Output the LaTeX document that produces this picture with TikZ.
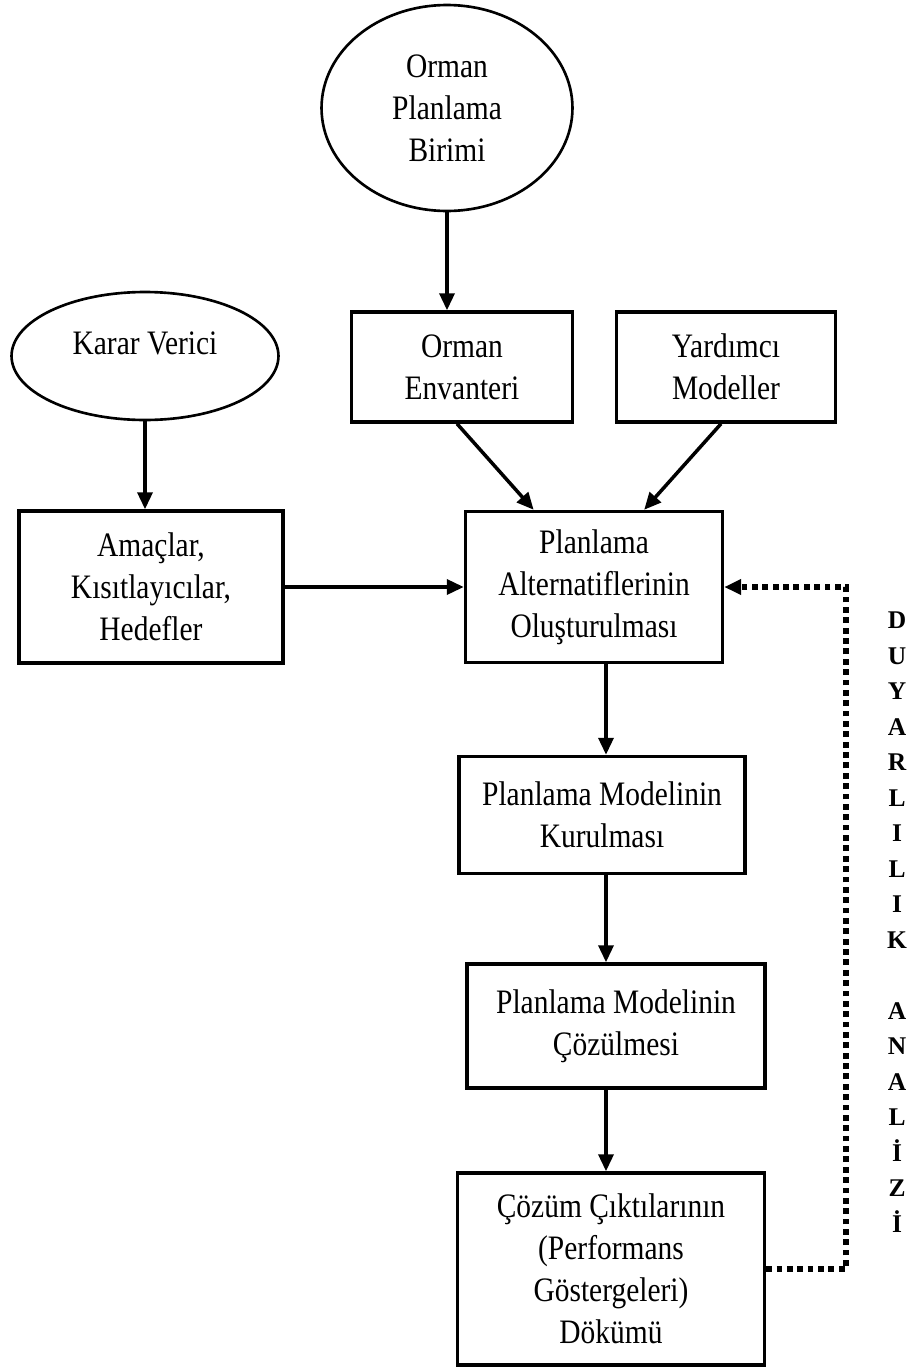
\documentclass[tikz,border=0pt]{standalone}
\usepackage{fontspec}
\setmainfont{Liberation Serif}[FakeStretch=0.86]
\newfontfamily\sidefont{Liberation Serif}
\usetikzlibrary{arrows.meta,shapes.geometric}

\begin{document}
\begin{tikzpicture}
    [x=0.02cm,y=-0.02cm,font=\fontsize{19.5}{23.9}\selectfont,
     box/.style={shape=rectangle,draw=black,line width=2pt,align=center,inner sep=0pt},
     oval/.style={shape=ellipse,draw=black,line width=1.5pt,align=center,inner sep=0pt},
     arr/.style={-{Triangle[length=0.34cm,width=0.3cm]},line width=2pt},
     fbarr/.style={-{Triangle[length=0.34cm,width=0.3cm]},line width=3.3pt,dash pattern=on 3.3pt off 2.6pt}]
    \useasboundingbox (0,0) rectangle (910,1369);
    \node [oval,minimum width=5.02cm,minimum height=4.12cm] (obirim) at (447,108) {Orman\\Planlama\\Birimi};
    \node [oval,minimum width=5.34cm,minimum height=2.56cm,label={[yshift=0.26cm]center:Karar Verici}] (karar) at (145,356) {};
    \node [box,minimum width=4.42cm,minimum height=2.2cm] (oenv) at (462,367) {Orman\\Envanteri};
    \node [box,minimum width=4.38cm,minimum height=2.2cm] (yard) at (726,367) {Yardımcı\\Modeller};
    \node [box,minimum width=5.28cm,minimum height=3.04cm] (amac) at (151,587) {Amaçlar,\\Kısıtlayıcılar,\\Hedefler};
    \node [box,minimum width=5.14cm,minimum height=3.02cm] (palt) at (594,587) {Planlama\\Alternatiflerinin\\Oluşturulması};
    \node [box,minimum width=5.72cm,minimum height=2.34cm] (kur) at (602,815) {Planlama Modelinin\\Kurulması};
    \node [box,minimum width=5.96cm,minimum height=2.48cm] (coz) at (616,1026) {Planlama Modelinin\\Çözülmesi};
    \node [box,minimum width=6.14cm,minimum height=3.84cm] (dokum) at (611,1269) {Çözüm Çıktılarının\\(Performans\\Göstergeleri)\\Dökümü};
    \node [align=center,font=\sidefont\bfseries\fontsize{14.5}{20.2}\selectfont] (duyar) at (897,922)
      {D\\U\\Y\\A\\R\\L\\I\\L\\I\\K\\[20.2pt]A\\N\\A\\L\\İ\\Z\\İ};
    \coordinate (sp) at (606,0);
    \coordinate (fb) at (846,0);
    % oklar
    \draw [arr] (obirim.south) -- (obirim.south |- oenv.north);
    \draw [arr] (karar.south) -- (karar.south |- amac.north);
    \draw [arr] (oenv.265) -- (palt.128);
    \draw [arr] (yard.265) -- (palt.57);
    \draw [arr] (amac) -- (palt);
    \draw [arr] (palt.south -| sp) -- (kur.north -| sp);
    \draw [arr] (kur.south -| sp) -- (coz.north -| sp);
    \draw [arr] (coz.south -| sp) -- (dokum.north -| sp);
    \draw [fbarr] (dokum.east) -| (fb |- palt.east) -- (palt.east);
\end{tikzpicture}
\end{document}
